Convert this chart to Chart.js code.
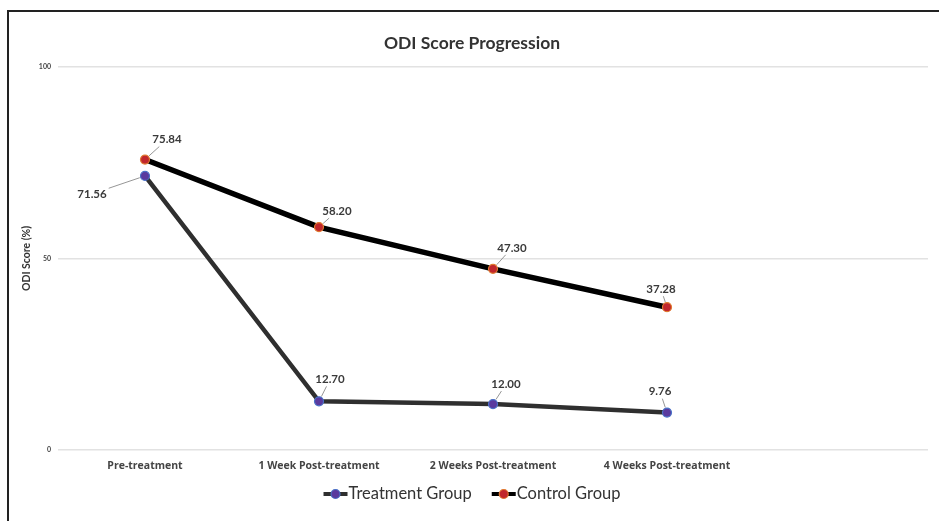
<!DOCTYPE html>
<html>
<head>
<meta charset="utf-8">
<script src="https://cdn.jsdelivr.net/npm/chart.js@4.4.1/dist/chart.umd.min.js"></script>
<style>
  html, body { margin: 0; padding: 0; background: #fff; overflow: hidden; }
  #wrap { position: relative; width: 939px; height: 521px; }
  #frame { position: absolute; left: 7px; top: 10px; width: 1000px; height: 600px;
           border-left: 2.5px solid #222; border-top: 2.5px solid #222; }
  canvas { position: absolute; left: 0; top: 0; }
</style>
</head>
<body>
<div id="wrap">
  <div id="frame"></div>
  <canvas id="chart"></canvas>
</div>
<script>
const categories = ["Pre-treatment", "1 Week Post-treatment", "2 Weeks Post-treatment", "4 Weeks Post-treatment", ""];
const treatmentValues = [71.56, 12.70, 12.00, 9.76, null];
const controlValues = [75.84, 58.20, 47.30, 37.28, null];
const yTicks = [0, 50, 100];

// label offset from its point (label centre minus point), per dataset
const treatmentLabelOffsets = [[-53, 18], [11, -22], [13, -20], [-7, -21]];
const controlLabelOffsets = [[22, -20], [18, -16], [19, -21], [-6, -18]];

const FONT = "Lato, 'Open Sans', sans-serif";

const pointLabels = {
    id: 'pointLabels',
    afterDatasetsDraw(chart) {
        const ctx = chart.ctx;
        const offsets = [treatmentLabelOffsets, controlLabelOffsets];
        ctx.save();
        ctx.font = "bold 11.5px " + FONT;
        ctx.textAlign = 'center';
        ctx.textBaseline = 'middle';
        chart.data.datasets.forEach((ds, di) => {
            const meta = chart.getDatasetMeta(di);
            meta.data.forEach((pt, i) => {
                const v = ds.data[i];
                if (v == null) return;
                const [dx, dy] = offsets[di][i];
                const lx = pt.x + dx, ly = pt.y + dy;
                const text = v.toFixed(2);
                const hw = ctx.measureText(text).width / 2 + 2;
                const hh = 7;
                const t = Math.min(hw / Math.abs(dx || 0.001), hh / Math.abs(dy || 0.001));
                const sx = lx - dx * t, sy = ly - dy * t;
                const len = Math.hypot(dx, dy);
                const ex = pt.x + dx / len * 5.5, ey = pt.y + dy / len * 5.5;
                ctx.strokeStyle = '#8a8a8a';
                ctx.lineWidth = 0.9;
                ctx.beginPath();
                ctx.moveTo(sx, sy);
                ctx.lineTo(ex, ey);
                ctx.stroke();
                ctx.fillStyle = '#3a3a3a';
                ctx.fillText(text, lx, ly);
            });
        });
        ctx.restore();
    }
};

// legend drawn by hand: line + marker glued to the label, like the original
const lineLegend = {
    id: 'lineLegend',
    afterDraw(chart) {
        const ctx = chart.ctx;
        const y = 494;
        const iconW = 24;
        ctx.save();
        ctx.font = "16.5px " + FONT;
        ctx.textBaseline = 'middle';
        const items = chart.data.datasets.map(ds => ({ ds, w: ctx.measureText(ds.label).width }));
        const total = items.reduce((s, it) => s + iconW + 1 + it.w, 0) + 20 * (items.length - 1);
        let x = 472 - total / 2;
        items.forEach(({ ds, w }) => {
            ctx.strokeStyle = ds.borderColor;
            ctx.lineWidth = 4;
            ctx.beginPath();
            ctx.moveTo(x, y);
            ctx.lineTo(x + iconW, y);
            ctx.stroke();
            ctx.beginPath();
            ctx.arc(x + iconW / 2, y, 4.5, 0, Math.PI * 2);
            ctx.fillStyle = ds.pointBackgroundColor;
            ctx.fill();
            ctx.lineWidth = 1.2;
            ctx.strokeStyle = ds.pointBorderColor;
            ctx.stroke();
            ctx.fillStyle = '#333';
            ctx.fillText(ds.label, x + iconW + 1, y);
            x += iconW + 1 + w + 20;
        });
        ctx.restore();
    }
};

new Chart(document.getElementById('chart'), {
    type: 'line',
    data: {
        labels: categories,
        datasets: [{
            label: 'Treatment Group',
            data: treatmentValues,
            borderColor: '#2f2f2f',
            borderWidth: 4.5,
            pointRadius: 4.5,
            pointBackgroundColor: '#5a3a9e',
            pointBorderColor: '#4a72c8',
            pointBorderWidth: 1.2,
            tension: 0
        }, {
            label: 'Control Group',
            data: controlValues,
            borderColor: '#000',
            borderWidth: 5.5,
            pointRadius: 4.5,
            pointBackgroundColor: '#c1272d',
            pointBorderColor: '#e07a30',
            pointBorderWidth: 1.2,
            tension: 0
        }]
    },
    options: {
        responsive: true,
        maintainAspectRatio: false,
        animation: false,
        layout: { padding: { left: 16, right: 11, top: 0, bottom: 49 } },
        plugins: {
            title: {
                display: true,
                text: 'ODI Score Progression',
                color: '#333',
                font: { family: FONT, size: 17.5, weight: 'bold' },
                padding: { top: 33, bottom: 13 }
            },
            legend: { display: false },
            tooltip: { enabled: false }
        },
        scales: {
            x: {
                offset: true,
                grid: { display: false, drawTicks: false },
                border: { display: false },
                ticks: {
                    color: '#444',
                    padding: 10,
                    maxRotation: 0,
                    font: { family: "'Open Sans', sans-serif", size: 10.5, weight: 'bold' }
                },
                afterFit(scale) { scale.height = 22; }
            },
            y: {
                min: 0,
                max: 100,
                afterBuildTicks(scale) { scale.ticks = yTicks.map(v => ({ value: v })); },
                grid: { color: '#e2e2e2', lineWidth: 1.5, drawTicks: false },
                border: { display: false },
                ticks: {
                    color: '#444',
                    padding: 7,
                    font: { family: FONT, size: 7, weight: 'bold' }
                },
                title: {
                    display: true,
                    text: 'ODI Score (%)',
                    color: '#333',
                    padding: { top: 4, bottom: 0 },
                    font: { family: FONT, size: 10.5, weight: 'bold' }
                },
                afterFit(scale) { scale.width = 42; }
            }
        }
    },
    plugins: [pointLabels, lineLegend]
});
</script>
</body>
</html>
